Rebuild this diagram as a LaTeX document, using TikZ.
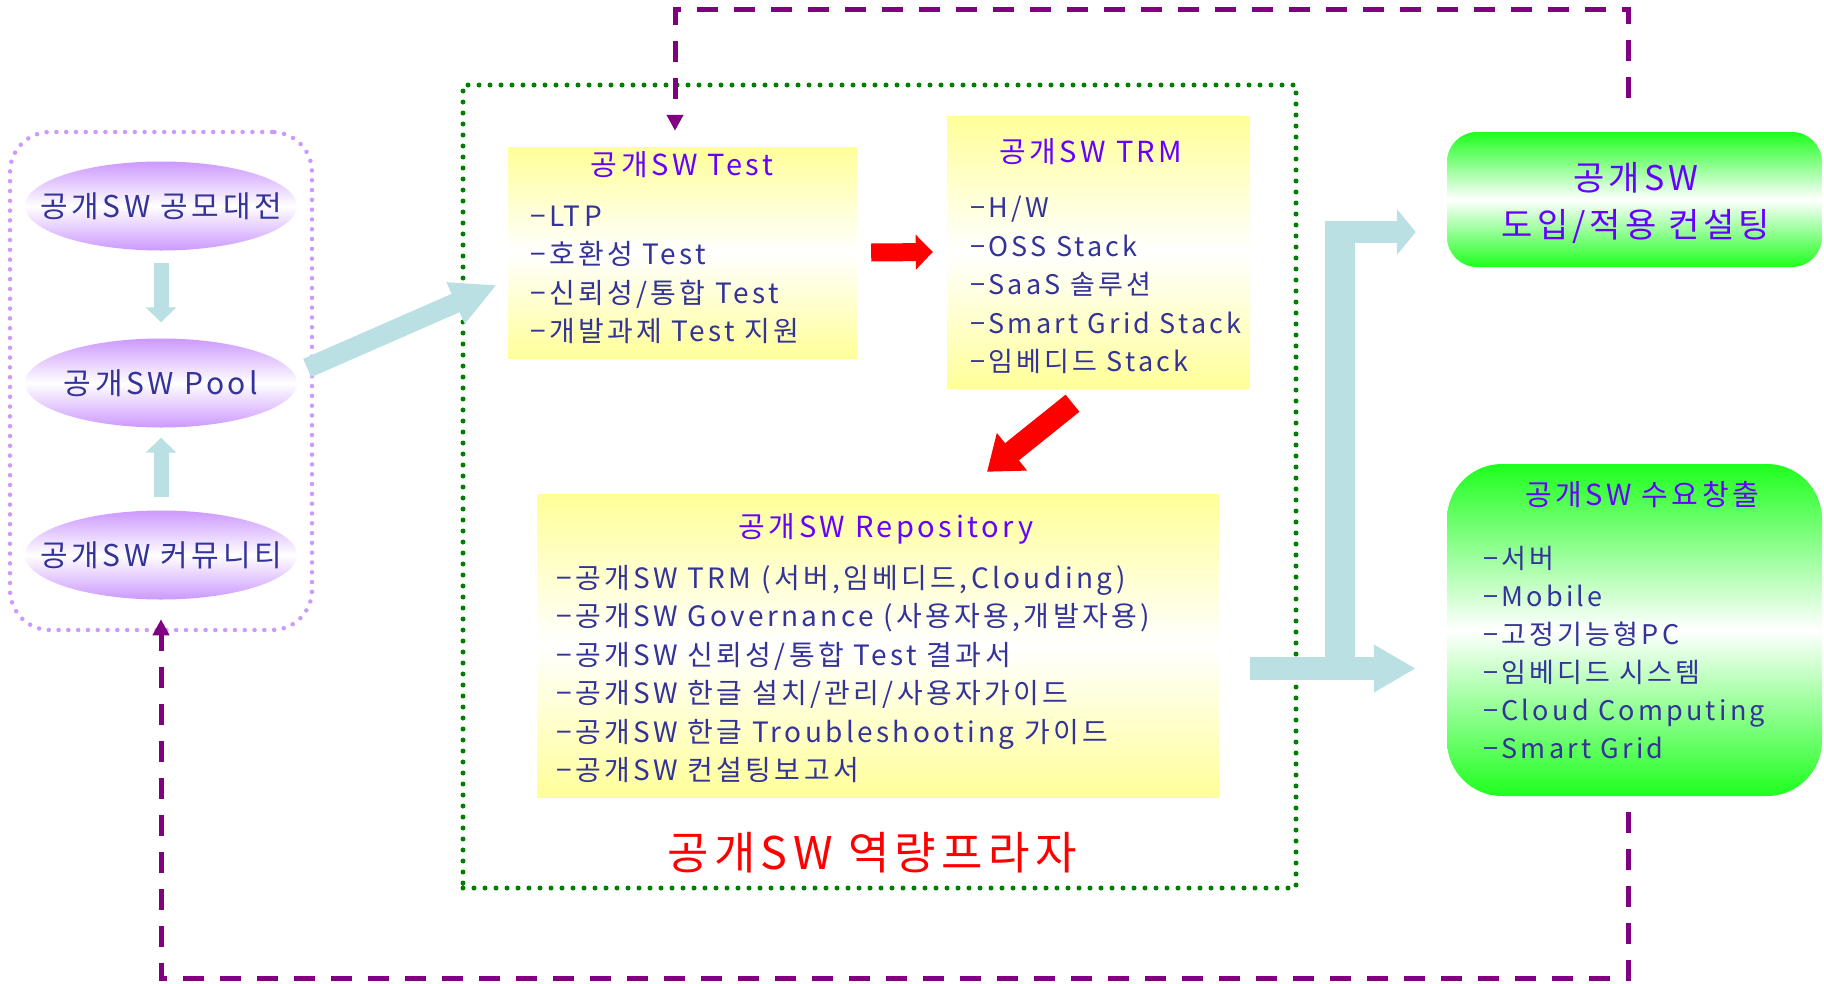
\documentclass[tikz,border=0pt]{standalone}
\usepackage{fontspec}
\setmainfont[LetterSpace=12]{Noto Sans CJK KR}
\usetikzlibrary{arrows.meta,shapes.geometric}
\definecolor{flowblue}{RGB}{186,224,227}
\definecolor{inkblue}{RGB}{51,51,153}
\definecolor{headviolet}{RGB}{102,0,255}
\definecolor{loopplum}{RGB}{128,0,128}
\definecolor{lilac}{RGB}{204,153,255}
\definecolor{dotgreen}{RGB}{0,128,0}
\definecolor{padyellow}{RGB}{255,255,153}
\definecolor{leafgreen}{RGB}{30,255,30}
\tikzset{
  bubble/.style={ellipse, minimum width=272pt, minimum height=89pt, inner xsep=-26pt, inner ysep=0pt,
    top color=lilac, bottom color=lilac, middle color=white,
    text=inkblue, font=\fontsize{30pt}{32pt}\selectfont},
  pad/.style={rectangle, inner sep=0pt, top color=padyellow, bottom color=padyellow, middle color=white},
  greenpad/.style={rectangle, inner sep=0pt, top color=leafgreen, bottom color=leafgreen, middle color=white},
  heading/.style={text=headviolet, font=\fontsize{29pt}{32pt}\selectfont, inner sep=0pt},
  itemlist/.style={text=inkblue, align=left, anchor=west, inner sep=0pt, font=\fontsize{28pt}{38.5pt}\selectfont},
  groupbox/.style={draw=lilac, line width=4.5pt, dash pattern=on 0pt off 9.8pt, line cap=round, rounded corners=40pt},
  plazabox/.style={draw=dotgreen, line width=5pt, dash pattern=on 0pt off 11pt, line cap=round},
  flowarrow/.style={draw=flowblue, line width=15pt, -{Triangle[length=15pt,width=30pt]}},
  redarrow/.style={draw=red, line width=18pt, -{Triangle[length=17pt,width=34pt]}},
  loopline/.style={draw=loopplum, line width=5pt, dash pattern=on 21pt off 16pt, -{Triangle[length=16pt,width=16pt]}}
}
\begin{document}
\begin{tikzpicture}[x=1pt,y=-1pt]
\useasboundingbox (0,0) rectangle (1824,983);

\node[groupbox, minimum width=302pt, minimum height=498pt] (poolgroup) at (161,381) {};
\node[bubble] (contest) at (161,206) {공개SW 공모대전};
\node[bubble] (pool) at (161,383) {공개SW Pool};
\node[bubble] (community) at (161,555) {공개SW 커뮤니티};
\draw[flowarrow, shorten <=12pt, shorten >=16pt] (contest) -- (pool);
\draw[flowarrow, shorten <=13pt, shorten >=10pt] (community) -- (pool);

\node[plazabox, minimum width=833pt, minimum height=803pt] (plaza) at (879.5,486.5) {};
\node[text=red, font=\fontsize{45pt}{50pt}\selectfont] (plazaname) at (872,853) {공개SW 역량프라자};

\node[pad, minimum width=349pt, minimum height=211pt] (testbox) at (682.5,252.5) {};
\node[heading] (testhead) at (682,165) {공개SW Test};
\node[itemlist] (testlist) at (530,275) {−LTP\\−호환성 Test\\−신뢰성/통합 Test\\−개발과제 Test 지원};

\node[pad, minimum width=303pt, minimum height=272pt] (trmbox) at (1098.5,252) {};
\node[heading] (trmhead) at (1091,152) {공개SW TRM};
\node[itemlist, font=\fontsize{27pt}{38.5pt}\selectfont] (trmlist) at (970,285) {−H/W\\−OSS Stack\\−SaaS 솔루션\\−Smart Grid Stack\\−임베디드 Stack};

\node[pad, minimum width=682pt, minimum height=303pt] (repobox) at (878,645.5) {};
\node[heading] (repohead) at (886,529) {공개SW Repository};
\node[itemlist] (repolist) at (556,674) {−공개SW TRM (서버,임베디드,Clouding)\\−공개SW Governance (사용자용,개발자용)\\−공개SW 신뢰성/통합 Test 결과서\\−공개SW 한글 설치/관리/사용자가이드\\−공개SW 한글 Troubleshooting 가이드\\−공개SW 컨설팅보고서};

\node[greenpad, rounded corners=30pt, minimum width=375pt, minimum height=135pt] (consult) at (1634.5,199.5) {};
\node[heading, align=center, font=\fontsize{34pt}{47pt}\selectfont] (consulthead) at (1636,203) {공개SW\\도입/적용 컨설팅};

\node[greenpad, rounded corners=55pt, minimum width=375pt, minimum height=332pt] (demand) at (1634.5,630) {};
\node[heading] (demandhead) at (1642,495) {공개SW 수요창출};
\node[itemlist, font=\fontsize{27pt}{38pt}\selectfont] (demandlist) at (1483,653) {−서버\\−Mobile\\−고정기능형PC\\−임베디드 시스템\\−Cloud Computing\\−Smart Grid};

\draw[flowarrow, line width=20pt, -{Triangle[length=45pt,width=42pt]}] ([shift={(10,-15)}]pool.east) -- ([shift={(-11,32.5)}]testbox.west);
\draw[redarrow] ([xshift=14pt]testbox.east) -- ([xshift=-14pt]trmbox.west);
\draw[redarrow, line width=22pt, -{Triangle[length=32pt,width=46pt]}] ([shift={(-26,15)}]trmbox.south) -- ([shift={(109,-22)}]repobox.north);

\coordinate (repoout) at ([shift={(31,23)}]repobox.east);
\coordinate (demandin) at ([xshift=-31pt]demand.west);
\coordinate (consultin) at ([shift={(-31,32.5)}]consult.west);
\coordinate (fork) at ([xshift=90pt]repoout);
\coordinate (forktop) at (fork |- consultin);
\draw[flowarrow, line width=30pt, -] (fork) -- (forktop);
\draw[flowarrow, line width=22pt, -{Triangle[length=19pt,width=45pt]}] ([xshift=-15pt]forktop) -- (consultin);
\draw[flowarrow, line width=23pt, -{Triangle[length=42pt,width=45pt]}] (repoout) -- (demandin |- repoout);

\draw[loopline] ([shift={(-6,-34)}]consult.north) -- ++(0,-88) -| ([shift={(-7.5,-16)}]testbox.north);
\draw[loopline] ([shift={(-6,16)}]demand.south) -- ++(0,166) -| ([yshift=13pt]poolgroup.south);
\end{tikzpicture}
\end{document}
